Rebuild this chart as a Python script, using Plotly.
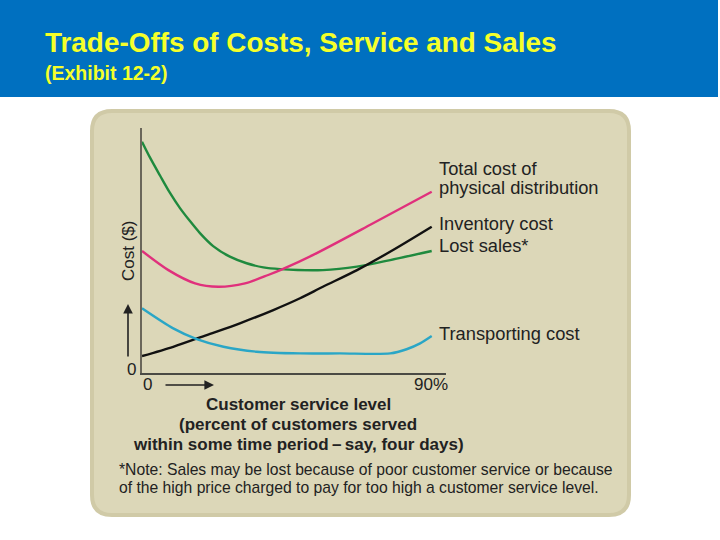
import plotly.graph_objects as go

W, H = 720, 540

# ---- data (x = customer service level %, y = cost, arbitrary units) ----
lost_x = [0, 2.5, 5.6, 8.7, 11.8, 14.9, 18.0, 22.1, 27.3, 32.5, 37.7, 42.9, 56.2, 66.8, 77.1, 90]
lost_y = [94.4, 87.9, 80.6, 73.5, 67.3, 62.0, 57.1, 51.8, 47.5, 44.8, 43.1, 42.4, 42.0, 43.4, 46.1, 49.8]

total_x = [0, 8.2, 16.5, 23.7, 32.0, 39.2, 43.5, 53.2, 71.5, 90]
total_y = [49.8, 42.0, 36.6, 35.2, 36.6, 40.0, 42.3, 48.2, 60.9, 74.0]

inv_x = [0, 9.7, 20.1, 30.4, 40.8, 49.1, 56.2, 66.8, 78.0, 90]
inv_y = [6.9, 10.7, 15.5, 20.3, 25.7, 30.5, 35.2, 42.0, 50.2, 59.7]

trans_x = [0, 9.7, 17.0, 25.3, 35.6, 49.1, 61.5, 77.1, 82.2, 86.4, 90]
trans_y = [26.4, 18.2, 13.8, 10.7, 8.7, 8.0, 8.0, 8.0, 9.7, 12.1, 15.1]

title = "Trade-Offs of Costs, Service and Sales"
subtitle = "(Exhibit 12-2)"
x_ticks = ["0", "90%"]
x_title_lines = ["Customer service level",
                 "(percent of customers served",
                 "within some time period\u2009\u2013\u2009say, four days)"]
note_lines = ["*Note: Sales may be lost because of poor customer service or because",
              "of the high price charged to pay for too high a customer service level."]
label_lines = [("Total cost of", 168), ("physical distribution", 188), ("Inventory cost", 223),
               ("Lost sales*", 245), ("Transporting cost", 333)]

FONT = "Liberation Sans, Arial, sans-serif"


def px(x):
    return x / W


def py(y):
    return 1 - y / H


fig = go.Figure()
line_w = 2.4
for xs, ys, col in [(lost_x, lost_y, "#1F8A3E"), (total_x, total_y, "#E0307C"),
                    (inv_x, inv_y, "#111111"), (trans_x, trans_y, "#2AA6C6")]:
    fig.add_trace(go.Scatter(x=xs, y=ys, mode="lines",
                             line=dict(color=col, width=line_w, shape="spline", smoothing=0.8)))

# panel with rounded corners (paper coords)
L, R, T, B = 92, 629, 111, 515
r = 20
rx, ry = r / W, r / H
path = (f"M {px(L)+rx},{py(T)} L {px(R)-rx},{py(T)} Q {px(R)},{py(T)} {px(R)},{py(T)-ry} "
        f"L {px(R)},{py(B)+ry} Q {px(R)},{py(B)} {px(R)-rx},{py(B)} "
        f"L {px(L)+rx},{py(B)} Q {px(L)},{py(B)} {px(L)},{py(B)+ry} "
        f"L {px(L)},{py(T)-ry} Q {px(L)},{py(T)} {px(L)+rx},{py(T)} Z")

shapes = [
    dict(type="rect", xref="paper", yref="paper", x0=0, x1=px(718), y0=py(97), y1=1,
         fillcolor="#0070C0", line=dict(width=0), layer="below"),
    dict(type="path", xref="paper", yref="paper", path=path,
         fillcolor="#DCD7B8", line=dict(color="#D0CAA7", width=4), layer="below"),
]

ann = []
ann.append(dict(text=f"<b>{title}</b>", x=px(43), y=py(43), xref="paper", yref="paper",
                xanchor="left", yanchor="middle", showarrow=False,
                font=dict(family=FONT, size=27.9, color="#F5FF2A")))
ann.append(dict(text=f"<b>{subtitle}</b>", x=px(43), y=py(73), xref="paper", yref="paper",
                xanchor="left", yanchor="middle", showarrow=False,
                font=dict(family=FONT, size=19.5, color="#F5FF2A")))

lab_font = dict(family=FONT, size=18.3, color="#222222")
for text, yy in label_lines:
    ann.append(dict(text=text, x=px(437), y=py(yy), xref="paper", yref="paper",
                    xanchor="left", yanchor="middle", showarrow=False, font=lab_font))

# axis texts
ax_font = dict(family=FONT, size=17, color="#222222")
ann.append(dict(text="Cost ($)", x=px(128), y=py(251), xref="paper", yref="paper", textangle=-90,
                xanchor="center", yanchor="middle", showarrow=False, font=ax_font))
ann.append(dict(text="0", x=px(131), y=py(369), xref="paper", yref="paper",
                xanchor="center", yanchor="middle", showarrow=False, font=ax_font))
ann.append(dict(text=x_ticks[0], x=px(147), y=py(385), xref="paper", yref="paper",
                xanchor="center", yanchor="middle", showarrow=False, font=ax_font))
ann.append(dict(text=x_ticks[1], x=px(450), y=py(385), xref="paper", yref="paper",
                xanchor="right", yanchor="middle", showarrow=False, font=ax_font))

for i, line in enumerate(x_title_lines):
    ann.append(dict(text=f"<b>{line}</b>", x=px(298), y=py(404 + 20 * i), xref="paper", yref="paper",
                    xanchor="center", yanchor="middle", showarrow=False,
                    font=dict(family=FONT, size=17, color="#222222")))
for i, line in enumerate(note_lines):
    ann.append(dict(text=line, x=px(117), y=py(469 + 18 * i), xref="paper", yref="paper",
                    xanchor="left", yanchor="middle", showarrow=False,
                    font=dict(family=FONT, size=15.7, color="#222222")))

# arrows
ann.append(dict(text="", x=px(128), y=py(304), xref="paper", yref="paper", ax=0, ay=54,
                showarrow=True, arrowhead=2, arrowsize=1.2, arrowwidth=1.6, arrowcolor="#222222"))
ann.append(dict(text="", x=px(214), y=py(385), xref="paper", yref="paper", ax=-50, ay=0,
                showarrow=True, arrowhead=2, arrowsize=1.2, arrowwidth=1.6, arrowcolor="#222222"))

x_end = (446 - 142) / (431.7 - 142) * 90

fig.update_layout(
    width=W, height=H,
    margin=dict(l=0, r=0, t=0, b=0),
    paper_bgcolor="white",
    plot_bgcolor="rgba(0,0,0,0)",
    showlegend=False,
    shapes=shapes,
    annotations=ann,
    xaxis=dict(domain=[px(142), px(446)], range=[0, x_end], showline=True, linecolor="#4A4A44",
               linewidth=1.6, showgrid=False, zeroline=False, showticklabels=False, ticks=""),
    yaxis=dict(domain=[py(373), py(128)], range=[0, 100], showline=True, linecolor="#6A665A",
               linewidth=1.6, showgrid=False, zeroline=False, showticklabels=False, ticks=""),
)

fig.write_html("out.html")
